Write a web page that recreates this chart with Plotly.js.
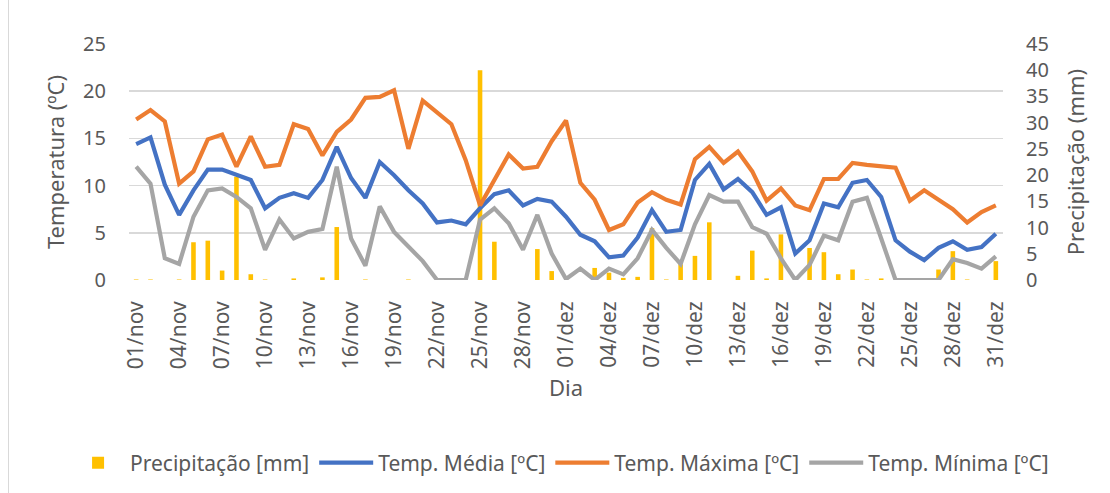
<!DOCTYPE html>
<html>
<head>
<meta charset="utf-8">
<script src="https://cdn.plot.ly/plotly-3.0.1.min.js"></script>
<style>
  html, body { margin: 0; padding: 0; background: #fff; }
  #chart { position: absolute; left: 0; top: 0; width: 1110px; height: 493px; }
  #frame { position: absolute; left: 8px; top: 0; width: 1110px; height: 493px; border-left: 1px solid #d9d9d9; pointer-events: none; }
</style>
</head>
<body>
<div id="chart"></div>
<div id="frame"></div>
<script>
// Days: 01/nov .. 31/dez
const novDays = Array.from({length: 30}, (_, i) => String(i + 1).padStart(2, '0') + '/nov');
const dezDays = Array.from({length: 31}, (_, i) => String(i + 1).padStart(2, '0') + '/dez');
const days = novDays.concat(dezDays);

const precipitacao = [
  0.1, 0.1, 0, 0.1, 7.2, 7.5, 1.8, 19.7, 1.1, 0.1,
  0, 0.3, 0, 0.5, 10.1, 0, 0.1, 0, 0, 0.1,
  0, 0, 0, 0, 40.0, 7.3, 0, 0, 5.9, 1.7,
  0, 0, 2.3, 1.4, 0.4, 0.6, 9.9, 0.1, 3.0, 4.6,
  11.0, 0, 0.8, 5.6, 0.3, 8.7, 0, 6.1, 5.3, 1.1,
  2.0, 0.1, 0.3, 0, 0, 0, 2.0, 5.5, 0.1, 0, 3.6
];

const tempMedia = [
  14.4, 15.1, 10.1, 6.9, 9.5, 11.7, 11.7, 11.1, 10.6, 7.6,
  8.7, 9.2, 8.7, 10.6, 14.1, 10.8, 8.7, 12.5, 11.1, 9.5,
  8.1, 6.1, 6.3, 5.9, 7.6, 9.1, 9.5, 7.9, 8.6, 8.3,
  6.7, 4.8, 4.1, 2.4, 2.6, 4.5, 7.4, 5.1, 5.3, 10.6,
  12.3, 9.6, 10.7, 9.3, 6.9, 7.7, 2.8, 4.2, 8.1, 7.7,
  10.3, 10.6, 8.8, 4.2, 3.0, 2.1, 3.4, 4.1, 3.2, 3.5, 4.9
];

const tempMaxima = [
  17.0, 18.0, 16.8, 10.2, 11.5, 14.9, 15.4, 12.0, 15.2, 12.0,
  12.2, 16.5, 16.0, 13.2, 15.7, 17.0, 19.3, 19.4, 20.1, 13.9,
  19.0, 17.7, 16.5, 12.7, 7.9, 10.6, 13.3, 11.8, 12.0, 14.7,
  16.9, 10.3, 8.5, 5.3, 5.9, 8.2, 9.3, 8.5, 8.0, 12.8,
  14.1, 12.4, 13.6, 11.5, 8.4, 9.7, 7.9, 7.4, 10.7, 10.7,
  12.4, 12.2, 12.1, 11.9, 8.4, 9.5, 8.5, 7.5, 6.1, 7.2, 7.9
];

const tempMinima = [
  12.0, 10.2, 2.3, 1.7, 6.7, 9.5, 9.7, 8.8, 7.6, 3.2,
  6.4, 4.4, 5.1, 5.4, 12.0, 4.4, 1.5, 7.8, 5.1, 3.5,
  2.0, 0, 0, 0, 6.4, 7.6, 6.0, 3.2, 6.9, 2.8,
  0.1, 1.2, 0, 1.2, 0.6, 2.3, 5.3, 3.4, 1.7, 5.9,
  9.0, 8.3, 8.3, 5.6, 4.9, 2.3, 0, 1.6, 4.7, 4.2,
  8.3, 8.7, 4.4, 0, 0, 0, 0, 2.2, 1.8, 1.2, 2.5
];

const tickDays = days.filter((d, i) => i % 3 === 0);

const txt = '#595959';
const fontFam = 'Noto Sans, Open Sans, sans-serif';

const traces = [
  {
    type: 'bar', name: 'Precipitação [mm]', x: days, y: precipitacao,
    yaxis: 'y', marker: {color: '#FFC000'}, width: 0.32
  },
  {
    type: 'scatter', mode: 'lines', name: 'Temp. Média [ºC]', x: days, y: tempMedia,
    yaxis: 'y2', line: {color: '#4472C4', width: 4.2}
  },
  {
    type: 'scatter', mode: 'lines', name: 'Temp. Máxima [ºC]', x: days, y: tempMaxima,
    yaxis: 'y2', line: {color: '#ED7D31', width: 4.2}
  },
  {
    type: 'scatter', mode: 'lines', name: 'Temp. Mínima [ºC]', x: days, y: tempMinima,
    yaxis: 'y2', line: {color: '#A5A5A5', width: 4.2}
  }
];

const layout = {
  width: 1110, height: 493,
  margin: {l: 129, r: 107, t: 44, b: 212},
  paper_bgcolor: 'rgba(0,0,0,0)',
  plot_bgcolor: 'rgba(0,0,0,0)',
  font: {family: fontFam, color: txt},
  showlegend: true,
  legend: {
    orientation: 'h',
    x: -0.072, xanchor: 'left', y: -0.768, yanchor: 'middle',
    font: {size: 21, color: txt}, traceorder: 'normal', itemwidth: 54
  },
  xaxis: {
    type: 'category',
    tickmode: 'array', tickvals: tickDays, ticktext: tickDays,
    tickangle: -90,
    tickfont: {size: 21, color: txt},
    ticks: 'outside', ticklen: 12, tickcolor: 'rgba(0,0,0,0)',
    showgrid: false, showline: false, zeroline: false,
    title: {text: 'Dia', font: {size: 22, color: txt}, standoff: 12}
  },
  yaxis: {
    side: 'right', range: [0, 45], dtick: 5, tick0: 0,
    tickfont: {size: 20, color: txt},
    ticks: 'outside', ticklen: 18, tickcolor: 'rgba(0,0,0,0)',
    showgrid: false, zeroline: false, showline: false,
    title: {text: 'Precipitação (mm)', font: {size: 22, color: txt}, standoff: 20}
  },
  yaxis2: {
    side: 'left', overlaying: 'y', range: [0, 25], dtick: 5, tick0: 0,
    tickfont: {size: 20, color: txt},
    ticks: 'outside', ticklen: 18, tickcolor: 'rgba(0,0,0,0)',
    showgrid: true, gridcolor: '#d9d9d9', gridwidth: 1.5,
    zeroline: false, showline: false,
    title: {text: 'Temperatura (ºC)', font: {size: 22, color: txt}, standoff: 12}
  }
};

Plotly.newPlot('chart', traces, layout, {staticPlot: true, displayModeBar: false});
</script>
</body>
</html>
